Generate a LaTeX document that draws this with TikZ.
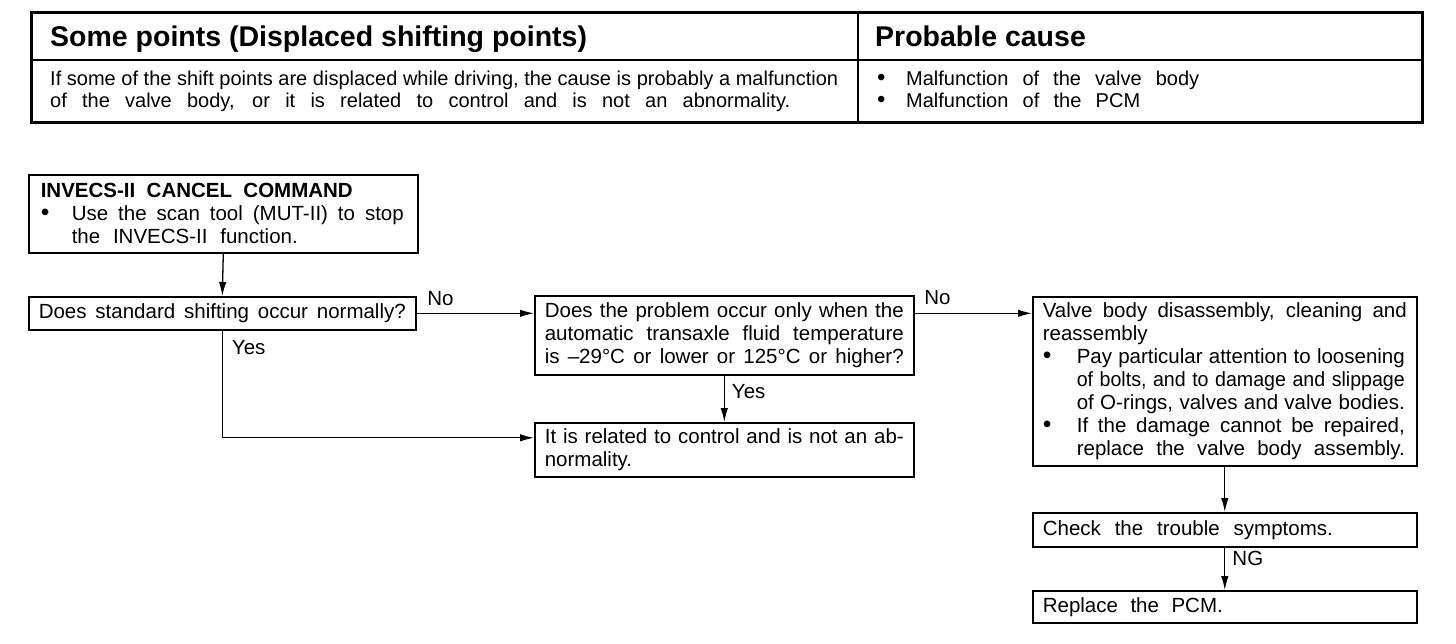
\documentclass[tikz,border=0pt]{standalone}
\usepackage{fontspec}
\setmainfont{Liberation Sans}
\usepackage{graphicx}
\usetikzlibrary{arrows.meta, positioning, calc}
\newcommand{\bodyfont}{\fontsize{20.5pt}{23pt}\selectfont}
\newcommand{\rowfont}{\fontsize{20pt}{22pt}\selectfont}
\newcommand{\hdrfont}{\fontsize{28.5pt}{32pt}\selectfont\bfseries}
% one justified line of a given width
\newsavebox{\jbox}
\newcommand{\jline}[2]{\sbox{\jbox}{\spaceskip=0pt\relax\xspaceskip=0pt\relax #2}%
  \ifdim\wd\jbox>#1\relax\resizebox{#1}{\height}{#2}%
  \else\makebox[#1][s]{\spaceskip=0pt\relax\xspaceskip=0pt\relax #2}\fi}
\newcommand{\bul}[1][34pt]{\makebox[#1][l]{\smash{\scalebox{1.2}{\textbullet}}}}
\newcommand{\ind}[1][34pt]{\hspace*{#1}}
\tikzset{
  fbox/.style={rectangle, draw, line width=1.6pt, anchor=north west,
               align=left, inner xsep=10pt, inner ysep=0pt, font=\bodyfont},
  lbl/.style={font=\bodyfont, inner sep=0pt},
  arr/.style={-{Latex[length=14pt,width=7.5pt]}, line width=1.3pt},
  hdr/.style={font=\hdrfont, inner sep=0pt},
  cell/.style={font=\rowfont, inner sep=0pt, align=left},
}
\begin{document}
\begin{tikzpicture}[x=1pt, y=-1pt]
  \useasboundingbox (0,0) rectangle (1456,644);

  % table of symptom and cause
  \draw[line width=3pt] (31,13) rectangle (1422,123);
  \draw[line width=2pt] (31,60) -- (1422,60);
  \draw[line width=2pt] (858,13) -- (858,123);
  \node[hdr, anchor=base west] (hsym) at (50,47) {Some points (Displaced shifting points)};
  \node[hdr, anchor=base west] (hcause) at (875,47) {Probable cause};
  \node[cell, anchor=north west] (sym) at (50,71)
    {\jline{788pt}{If some of the shift points are displaced while driving, the cause is probably a malfunction}\\
     \jline{740pt}{of the valve body, or it is related to control and is not an abnormality.}};
  \node[cell, anchor=north west] (cause) at (877,71)
    {\bul[29pt]\jline{293pt}{Malfunction of the valve body}\\
     \bul[29pt]\jline{234pt}{Malfunction of the PCM}};

  % flow chart
  \node[fbox, inner xsep=12pt, text width=365pt, minimum height=78pt] (cancel) at (28,174)
    {\jline{312pt}{\bfseries INVECS-II CANCEL COMMAND}\\
     \bul[31pt]\jline{332pt}{Use the scan tool (MUT-II) to stop}\\
     \ind[31pt]\jline{226pt}{the INVECS-II function.}};
  \node[fbox, text width=367pt, minimum height=33pt] (std) at (28,296)
    {\jline{367pt}{Does standard shifting occur normally?}};
  \node[fbox, text width=359pt, minimum height=79pt] (temp) at (534,295)
    {\jline{359pt}{Does the problem occur only when the}\\
     \jline{359pt}{automatic transaxle fluid temperature}\\
     \jline{359pt}{is –29°C or lower or 125°C or higher?}};
  \node[fbox, text width=359pt, minimum height=54pt] (ctrl) at (534,422)
    {\jline{359pt}{It is related to control and is not an ab-}\\
     normality.};
  \node[fbox, text width=364pt, minimum height=169pt] (valve) at (1032,296)
    {\jline{364pt}{Valve body disassembly, cleaning and}\\
     reassembly\\
     \bul\jline{328pt}{Pay particular attention to loosening}\\
     \ind\jline{328pt}{of bolts, and to damage and slippage}\\
     \ind\jline{328pt}{of O-rings, valves and valve bodies.}\\
     \bul\jline{328pt}{If the damage cannot be repaired,}\\
     \ind\jline{328pt}{replace the valve body assembly.}};
  \node[fbox, text width=364pt, minimum height=34pt] (check) at (1032,512)
    {\jline{290pt}{Check the trouble symptoms.}};
  \node[fbox, text width=364pt, minimum height=32pt] (pcm) at (1032,590)
    {\jline{180pt}{Replace the PCM.}};

  \draw[arr] (cancel.south) -- (std.north);
  \draw[arr] (std.east) -- (std.east -| temp.west)
    node[lbl, at start, anchor=base west, xshift=10pt, yshift=8pt] {No};
  \draw[arr] (std.south) |- ([yshift=12pt]ctrl.west)
    node[lbl, at start, anchor=base west, xshift=9pt, yshift=-24pt] {Yes};
  \draw[arr] (temp.east |- std.east) -- (std.east -| valve.west)
    node[lbl, at start, anchor=base west, xshift=9pt, yshift=9pt] {No};
  \draw[arr] (temp.south) -- (ctrl.north)
    node[lbl, midway, anchor=base west, xshift=7pt] {Yes};
  \draw[arr] (valve.south) -- (check.north);
  \draw[arr] (check.south) -- (pcm.north)
    node[lbl, midway, anchor=base west, xshift=7pt, yshift=3pt] {NG};
\end{tikzpicture}
\end{document}
